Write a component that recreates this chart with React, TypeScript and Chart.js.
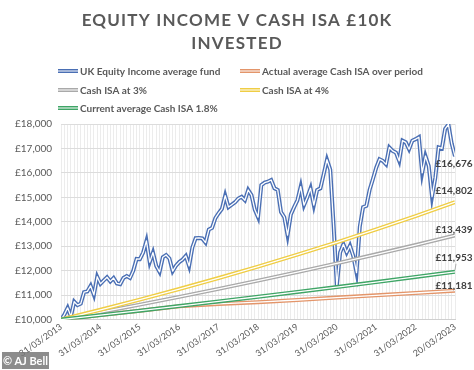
import React, { useEffect, useRef } from 'react';
import { Chart, registerables } from 'chart.js';

Chart.register(...registerables);

// ---------------- DATA ----------------
const titleLines = ['EQUITY INCOME V CASH ISA £10K', 'INVESTED'];

const yearTickLabels = [
  '31/03/2013', '31/03/2014', '31/03/2015', '31/03/2016', '31/03/2017', '31/03/2018',
  '31/03/2019', '31/03/2020', '31/03/2021', '31/03/2022', '20/03/2023',
];

const seriesNames = [
  'UK Equity Income average fund',
  'Actual average Cash ISA over period',
  'Cash ISA at 3%',
  'Cash ISA at 4%',
  'Current average Cash ISA 1.8%',
];

// monthly values, Mar 2013 .. Mar 2023
const equityIncome = [
  10000, 10200, 10480, 10120, 10730, 10590, 10650, 11120, 11150, 11380, 11010, 11750,
  11460, 11600, 11730, 11560, 11700, 11480, 11450, 11700, 11780, 11700, 12000, 12480,
  12470, 12740, 13220, 12350, 12740, 12190, 11950, 12550, 12640, 12500, 11980, 12200,
  12350, 12450, 12600, 12190, 12950, 13330, 13340, 13320, 13150, 13680, 13750, 14150,
  14350, 14530, 15070, 14600, 14700, 14800, 14950, 15020, 14880, 15300, 15090, 14500,
  14190, 15500, 15600, 15640, 15710, 15370, 15300, 14400, 14190, 13450, 14300, 14600,
  14880, 15440, 14680, 15000, 15370, 14680, 15300, 15370, 15950, 16540, 16130, 13900,
  11360, 12740, 13080, 12740, 13020, 12600, 11920, 13800, 14600, 14650, 15310, 15750,
  16210, 16560, 16490, 16350, 17040, 16900, 16830, 16490, 17320, 17250, 16970, 17320,
  17380, 17460, 16000, 16690, 16280, 15030, 15800, 17040, 17000, 17800, 17980, 17200,
  16676,
];

// yearly values (month index 0, 12, ..., 120)
const yearMonthIndex = [0, 12, 24, 36, 48, 60, 72, 84, 96, 108, 120];
const actualCashIsa = [10000, 10180, 10362, 10545, 10640, 10710, 10800, 10900, 10990, 11085, 11181];
const cashIsa3 = [10000, 10300, 10609, 10927, 11255, 11593, 11941, 12299, 12668, 13048, 13439];
const cashIsa4 = [10000, 10400, 10816, 11249, 11699, 12167, 12653, 13159, 13686, 14233, 14802];
const currentCashIsa18 = [10000, 10180, 10363, 10550, 10740, 10933, 11130, 11330, 11534, 11742, 11953];

const endLabels = ['£16,676', '£11,181', '£13,439', '£14,802', '£11,953'];

const yMin = 10000;
const yMax = 18000;
const yStep = 1000;

// ---------------- STYLE ----------------
const colors = ['#4a6fb4', '#e3956a', '#a9a9a9', '#efcd45', '#3fa566'];
const labelOffsets = [7, -5, -6, -11, -14];
const FONT = 'Lato, "Noto Sans", sans-serif';
const GREY = '#595959';

const App: React.FC = () => {
  const canvasRef = useRef<HTMLCanvasElement | null>(null);

  useEffect(() => {
    document.body.style.margin = '0';
    const canvas = canvasRef.current;
    if (!canvas) return;

    const equityPts = equityIncome.map((v, i) => ({ x: i, y: v }));
    const yearly = (arr: number[]) => arr.map((v, i) => ({ x: yearMonthIndex[i], y: v }));
    const allData = [equityPts, yearly(actualCashIsa), yearly(cashIsa3), yearly(cashIsa4), yearly(currentCashIsa18)];

    const doubleLine = {
      id: 'doubleLine',
      afterDatasetDraw(chart: any, args: any) {
        const pts = args.meta.data;
        if (!pts || !pts.length) return;
        const ctx = chart.ctx;
        ctx.save();
        ctx.beginPath();
        pts.forEach((p: any, i: number) => (i === 0 ? ctx.moveTo(p.x, p.y) : ctx.lineTo(p.x, p.y)));
        ctx.strokeStyle = '#ffffff';
        ctx.lineWidth = 1.3;
        ctx.lineJoin = 'round';
        ctx.stroke();
        ctx.restore();
      },
    };

    const decorations = {
      id: 'decorations',
      afterDraw(chart: any) {
        const ctx = chart.ctx;
        const W = chart.width;
        ctx.save();
        // title
        ctx.fillStyle = GREY;
        ctx.font = `bold 17px ${FONT}`;
        ctx.textAlign = 'center';
        ctx.textBaseline = 'middle';
        (ctx as any).letterSpacing = '1.2px';
        ctx.fillText(titleLines[0], W / 2, 21);
        ctx.fillText(titleLines[1], W / 2, 44);
        (ctx as any).letterSpacing = '0px';

        // legend
        const pos = [
          [58, 71], [240, 71], [58, 90], [240, 90], [58, 108],
        ];
        ctx.font = `bold 10px ${FONT}`;
        ctx.textAlign = 'left';
        seriesNames.forEach((name, i) => {
          const [x, y] = pos[i];
          ctx.fillStyle = colors[i];
          ctx.fillRect(x, y - 2, 20, 4);
          ctx.fillStyle = '#ffffff';
          ctx.fillRect(x, y - 0.5, 20, 1);
          ctx.fillStyle = GREY;
          ctx.fillText(name, x + 22, y + 0.5);
        });

        // end labels
        ctx.font = `bold 10px ${FONT}`;
        ctx.textAlign = 'center';
        ctx.fillStyle = '#404040';
        chart.data.datasets.forEach((ds: any, i: number) => {
          const meta = chart.getDatasetMeta(i);
          const last = meta.data[meta.data.length - 1];
          if (!last) return;
          ctx.fillText(endLabels[i], last.x - 1, last.y + labelOffsets[i]);
          if (i === 4) {
            ctx.strokeStyle = '#9a9a9a';
            ctx.lineWidth = 0.8;
            ctx.beginPath();
            ctx.moveTo(last.x, last.y - 2);
            ctx.lineTo(last.x + 1, last.y - 8);
            ctx.stroke();
          }
        });
        ctx.restore();
      },
    };

    const chart = new Chart(canvas, {
      type: 'line',
      data: {
        datasets: allData.map((d, i) => ({
          label: seriesNames[i],
          data: d,
          borderColor: colors[i],
          backgroundColor: colors[i],
          borderWidth: 4,
          pointRadius: 0,
          tension: 0,
          fill: false,
          order: 4 - i,
        })),
      },
      options: {
        animation: false,
        responsive: false,
        maintainAspectRatio: false,
        layout: { padding: { top: 124, left: 6, right: 19, bottom: 9 } },
        plugins: {
          legend: { display: false },
          title: { display: false },
          tooltip: { enabled: false },
        },
        scales: {
          x: {
            type: 'linear',
            min: 0,
            max: 120,
            ticks: {
              stepSize: 1,
              maxTicksLimit: 200,
              autoSkip: false,
              minRotation: 35,
              maxRotation: 35,
              padding: 2,
              color: GREY,
              font: { family: FONT, size: 9 },
              callback: (v: any) => (Number(v) % 12 === 0 ? yearTickLabels[Number(v) / 12] : ''),
            },
            grid: { color: '#ececec', drawTicks: false, lineWidth: 1 },
            border: { color: '#d0d0d0' },
          },
          y: {
            min: yMin,
            max: yMax,
            ticks: {
              stepSize: yStep,
              padding: 9,
              color: GREY,
              font: { family: FONT, size: 10 },
              callback: (v: any) => '£' + Number(v).toLocaleString('en-GB'),
            },
            grid: { color: '#dcdcdc', drawTicks: false },
            border: { display: false },
          },
        },
      },
      plugins: [doubleLine, decorations],
    });

    return () => chart.destroy();
  }, []);

  return (
    <div style={{ position: 'relative', width: 474, height: 370, background: '#ffffff' }}>
      <canvas ref={canvasRef} width={474} height={370} style={{ display: 'block' }} />
      <div
        style={{
          position: 'absolute',
          left: 2,
          top: 352,
          width: 47,
          height: 17,
          background: 'rgba(120,120,120,0.85)',
          color: '#ffffff',
          font: `bold 11px ${FONT}`,
          lineHeight: '17px',
          textAlign: 'center',
        }}
      >
        © AJ Bell
      </div>
    </div>
  );
};

export default App;
